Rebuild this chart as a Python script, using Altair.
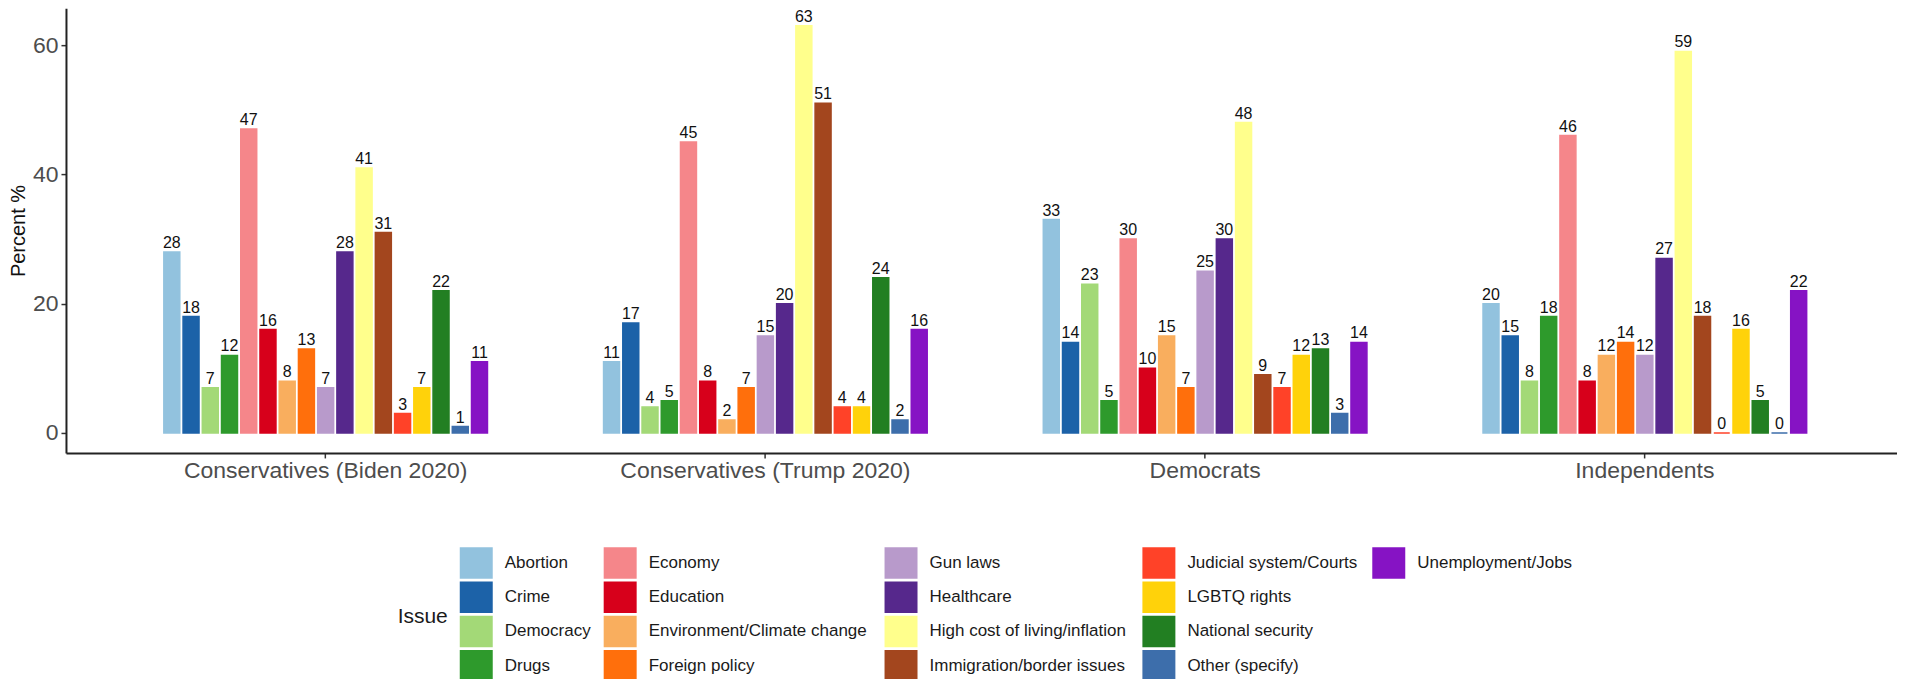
import altair as alt
import pandas as pd

FONT = "Liberation Sans"

GROUPS = ["Conservatives (Biden 2020)", "Conservatives (Trump 2020)", "Democrats", "Independents"]
ISSUES = [
    "Abortion", "Crime", "Democracy", "Drugs", "Economy", "Education",
    "Environment/Climate change", "Foreign policy", "Gun laws", "Healthcare",
    "High cost of living/inflation", "Immigration/border issues",
    "Judicial system/Courts", "LGBTQ rights", "National security",
    "Other (specify)", "Unemployment/Jobs",
]
COLORS = [
    "#92C2DE", "#1C62A8", "#A3D977", "#2E9A2C", "#F5868A", "#D7001B",
    "#F9AE5E", "#FF6F0C", "#B89ACB", "#56288C", "#FFFF8C", "#A3461E",
    "#FF4228", "#FFD20A", "#227F22", "#3D6EAB", "#8613C4",
]
BIDEN = [28, 18, 7, 12, 47, 16, 8, 13, 7, 28, 41, 31, 3, 7, 22, 1, 11]
TRUMP = [11, 17, 4, 5, 45, 8, 2, 7, 15, 20, 63, 51, 4, 4, 24, 2, 16]
DEMS = [33, 14, 23, 5, 30, 10, 15, 7, 25, 30, 48, 9, 7, 12, 13, 3, 14]
INDS = [20, 15, 8, 18, 46, 8, 12, 14, 12, 27, 59, 18, 0, 16, 5, 0, 22]
SERIES = [BIDEN, TRUMP, DEMS, INDS]
Y_TICKS = [0, 20, 40, 60]
Y_TITLE = "Percent %"
LEGEND_TITLE = "Issue"

rows = []
for g, vals in zip(GROUPS, SERIES):
    for iss, v in zip(ISSUES, vals):
        rows.append({"Group": g, "Issue": iss, "Percent": v})
df = pd.DataFrame(rows)

color_scale = alt.Scale(domain=ISSUES, range=COLORS)

base = alt.Chart(df).encode(
    x=alt.X(
        "Group:N", sort=GROUPS,
        scale=alt.Scale(paddingInner=0.264, paddingOuter=0.214, align=0.52),
        axis=alt.Axis(
            title=None, labelAngle=0, labelFontSize=23, labelColor="#4d4d4d",
            labelFont=FONT, labelLimit=1000, tickSize=5, labelPadding=2,
            domainColor="#222", domainWidth=2, tickColor="#333", tickWidth=1.5,
            grid=False,
        ),
    ),
    xOffset=alt.XOffset("Issue:N", sort=ISSUES,
                        scale=alt.Scale(paddingInner=0.17, paddingOuter=0.0)),
    y=alt.Y(
        "Percent:Q", stack=None,
        scale=alt.Scale(domain=[-3.09, 65.7], nice=False, zero=False),
        axis=alt.Axis(
            values=Y_TICKS, title=Y_TITLE, titleFontSize=20, titleColor="#111",
            titleFontWeight="normal", titleFont=FONT, titlePadding=4,
            labelFontSize=23, labelColor="#4d4d4d", labelFont=FONT,
            tickSize=5, labelPadding=3, domainColor="#222", domainWidth=2,
            tickColor="#333", tickWidth=1.5, grid=False,
        ),
    ),
)

bars = base.mark_bar(strokeWidth=1.5).encode(
    y2=alt.datum(0),
    color=alt.Color("Issue:N", scale=color_scale, legend=None),
    stroke=alt.Stroke("Issue:N", scale=color_scale, legend=None),
)
labels = base.mark_text(
    baseline="alphabetic", dy=-4, fontSize=16, color="#111", font=FONT
).encode(text="Percent:Q")

main = alt.layer(bars, labels).properties(width=1832, height=445)

leg_df = pd.DataFrame({
    "Issue": ISSUES,
    "col": [i // 4 for i in range(len(ISSUES))],
    "row": [i % 4 for i in range(len(ISSUES))],
})

LEG_H = 137
COL_W = [144, 281, 258, 230, 200]


def legend_col(c, w):
    src = alt.Chart(leg_df).transform_filter(alt.datum.col == c)
    y = alt.Y("row:O", scale=alt.Scale(domain=[0, 1, 2, 3], paddingInner=0.08,
                                       paddingOuter=0.04), axis=None)
    sw = src.mark_rect().encode(
        x=alt.value(0), x2=alt.value(33), y=y,
        color=alt.Color("Issue:N", scale=color_scale, legend=None),
    )
    tx = src.mark_text(align="left", baseline="middle", fontSize=17,
                       color="#1a1a1a", font=FONT).encode(
        x=alt.value(45), y=y, text="Issue:N")
    return alt.layer(sw, tx).properties(width=w, height=LEG_H)


title_df = pd.DataFrame({"t": [LEGEND_TITLE]})
ttl = alt.Chart(title_df).mark_text(
    align="right", baseline="middle", fontSize=21, font=FONT, color="#1a1a1a"
).encode(text="t:N", x=alt.value(382), y=alt.value(71)).properties(width=394, height=LEG_H)

legend_row = alt.hconcat(ttl, *[legend_col(c, w) for c, w in enumerate(COL_W)], spacing=0)

chart = alt.vconcat(main, legend_row, spacing=63).properties(
    padding={"left": 0, "top": 0, "right": 0, "bottom": 0}
).configure(font=FONT).configure_view(strokeWidth=0, stroke="transparent")

chart.save("out.html", embed_options={"renderer": "svg", "actions": False})
